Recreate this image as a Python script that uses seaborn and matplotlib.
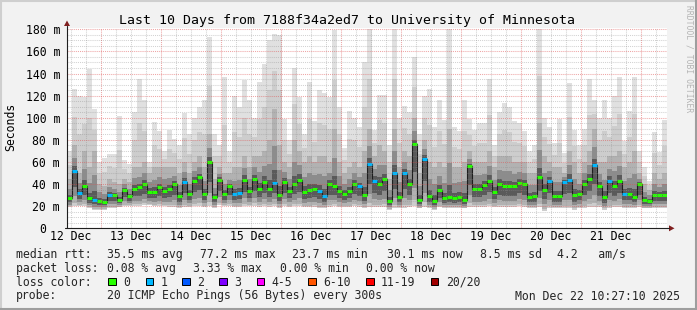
import numpy as np
import matplotlib
matplotlib.use("Agg")
import matplotlib.pyplot as plt
import seaborn as sns
from matplotlib.patches import Rectangle, Polygon
from matplotlib.lines import Line2D

# ---------------- data (2-hour bins over 10 days) ----------------
bin_hours = 2
start_offset_to_noon = 1.547          # start 10:27:10 -> first noon after 1h33m
median = [27, 52, 32, 38, 27, 26, 25, 24, 30, 30, 26, 35, 29, 36, 37, 40, 33, 33, 37, 34,
          36, 40, 29, 42, 31, 43, 46, 31, 60, 28, 44, 31, 38, 31, 32, 44, 34, 45, 36, 42,
          36, 41, 30, 42, 34, 40, 44, 33, 35, 36, 34, 29, 40, 38, 34, 31, 34, 40, 38, 30,
          58, 43, 40, 45, 25, 50, 28, 50, 40, 76, 26, 63, 29, 25, 35, 27, 28, 27, 28, 26,
          56, 36, 36, 39, 43, 33, 40, 38, 38, 38, 41, 40, 28, 29, 46, 35, 43, 29, 29, 42,
          44, 30, 31, 40, 45, 57, 38, 28, 43, 38, 43, 31, 31, 28, 40, 26, 25, 30, 30, 30]
upper = [70, 126, 120, 119, 144, 108, 60, 64, 67, 67, 102, 62, 58, 105, 135, 116, 60, 96, 88, 70,
         89, 81, 75, 104, 85, 100, 110, 116, 173, 85, 75, 137, 70, 120, 110, 134, 116, 100, 132, 149,
         170, 176, 175, 99, 80, 145, 119, 85, 132, 97, 125, 122, 119, 179, 110, 73, 106, 100, 92, 150,
         180, 89, 121, 121, 75, 180, 100, 111, 105, 155, 85, 120, 126, 92, 116, 98, 180, 92, 88, 116,
         99, 89, 95, 95, 135, 75, 105, 113, 110, 97, 95, 88, 70, 75, 180, 100, 92, 77, 99, 68,
         131, 89, 75, 90, 135, 116, 100, 116, 100, 120, 137, 79, 106, 137, 70, 55, 43, 87, 69, 98]
middle = [45, 75, 50, 70, 55, 70, 40, 38, 45, 42, 40, 45, 42, 55, 55, 60, 50, 55, 55, 55,
          55, 55, 50, 60, 50, 60, 65, 55, 85, 45, 55, 50, 50, 55, 55, 65, 55, 65, 65, 70,
          80, 108, 75, 60, 55, 80, 70, 60, 65, 60, 65, 65, 60, 90, 60, 50, 55, 60, 55, 70,
          90, 65, 75, 70, 45, 90, 55, 70, 65, 100, 50, 80, 60, 55, 60, 55, 90, 55, 55, 60,
          70, 60, 60, 60, 70, 55, 65, 65, 65, 60, 60, 60, 50, 50, 95, 65, 60, 55, 55, 50,
          70, 60, 50, 60, 70, 90, 60, 60, 65, 65, 70, 55, 60, 70, 50, 40, 35, 50, 45, 50]
lower = [19, 20, 20, 20, 18, 17, 17, 17, 18, 18, 19, 20, 20, 20, 20, 21, 21, 20, 20, 20,
         19, 19, 18, 19, 19, 20, 20, 19, 20, 18, 21, 20, 20, 19, 19, 20, 20, 20, 19, 20,
         19, 20, 18, 20, 19, 20, 20, 19, 19, 19, 18, 18, 19, 20, 19, 19, 19, 20, 19, 18,
         19, 19, 19, 19, 17, 18, 18, 18, 19, 20, 18, 19, 18, 17, 19, 18, 18, 18, 18, 18,
         19, 19, 19, 19, 20, 19, 19, 19, 19, 19, 20, 19, 18, 18, 19, 16, 18, 18, 18, 18,
         18, 17, 18, 18, 19, 19, 19, 17, 18, 19, 19, 18, 18, 18, 19, 18, 18, 18, 18, 18]
loss = [0, 1, 1, 0, 0, 1, 0, 0, 1, 0, 0, 0, 0, 0, 0, 0, 0, 0, 0, 0,
        0, 0, 0, 1, 0, 0, 0, 0, 0, 0, 0, 0, 0, 1, 1, 0, 0, 0, 0, 0,
        0, 1, 0, 0, 0, 0, 0, 0, 0, 0, 1, 1, 0, 0, 0, 0, 0, 0, 1, 0,
        1, 1, 0, 0, 0, 1, 0, 1, 0, 0, 0, 1, 0, 0, 0, 0, 0, 0, 0, 0,
        0, 0, 0, 0, 0, 0, 0, 0, 0, 0, 0, 0, 0, 0, 0, 0, 1, 0, 0, 1,
        1, 0, 0, 0, 0, 1, 0, 0, 1, 0, 0, 1, 0, 0, 0, 0, 0, 0, 0, 0]

day_labels = ["12 Dec", "13 Dec", "14 Dec", "15 Dec", "16 Dec",
              "17 Dec", "18 Dec", "19 Dec", "20 Dec", "21 Dec"]
y_ticks = [0, 20, 40, 60, 80, 100, 120, 140, 160, 180]
y_tick_labels = ["0", "20 m", "40 m", "60 m", "80 m", "100 m", "120 m", "140 m", "160 m", "180 m"]
loss_labels = ["0", "1", "2", "3", "4-5", "6-10", "11-19", "20/20"]
loss_colors = ["#26ff00", "#00b8ff", "#0059ff", "#7e00ff", "#ff00ff", "#ff5500", "#ff0000", "#a10000"]
rtt_stats = ["35.5 ms avg", "77.2 ms max", "23.7 ms min", "30.1 ms now", "8.5 ms sd", "4.2   am/s"]
loss_stats = ["0.08 % avg", "3.33 % max", "0.00 % min", "0.00 % now"]
title = "Last 10 Days from 7188f34a2ed7 to University of Minnesota"
probe_text = "20 ICMP Echo Pings (56 Bytes) every 300s"
stamp = "Mon Dec 22 10:27:10 2025"

# ---------------- figure ----------------
sns.set_theme(style="white")
plt.rcParams["font.family"] = ["DejaVu Sans Mono", "DejaVu Sans"]

W, H = 697, 310
fig = plt.figure(figsize=(W / 100, H / 100), dpi=100, facecolor="#f2f2f2")
X0, X1, YB, YT = 67, 667, 228.3, 28.3
ax = fig.add_axes([X0 / W, 1 - YB / H, (X1 - X0) / W, (YB - YT) / H])
ax.set_facecolor("white")
span = len(median) * bin_hours
ymax = 180 * (YB - YT) / 199.0


def fx(px):
    return px / W


def fy(py):
    return 1 - py / H


t = np.arange(len(median)) * bin_hours
te = np.append(t, span)


def ext(a):
    a = np.asarray(a, dtype=float)
    return np.append(a, a[-1])


med = ext(median)
hi = ext(upper)
mid = ext(middle)
lo = ext(lower)

# smoke layers (lightest outer band to darkest core around the median)
ax.fill_between(te, lo, hi, step="post", color="#e0e0e0", lw=0, zorder=1)
ax.fill_between(te, lo, (mid + hi) / 2, step="post", color="#cdcdcd", lw=0, zorder=1.05)
ax.fill_between(te, lo + (med - lo) * 0.1, mid, step="post", color="#b2b2b2", lw=0, zorder=1.1)
ax.fill_between(te, lo + (med - lo) * 0.3, (med + mid) / 2, step="post", color="#8c8c8c", lw=0, zorder=1.2)
ax.fill_between(te, lo + (med - lo) * 0.55, med + (mid - med) * 0.18, step="post", color="#5a5a5a", lw=0, zorder=1.3)

# median step line + loss-coloured dashes
sns.lineplot(x=te, y=med, drawstyle="steps-post", color="#1e1e1e", lw=0.8, ax=ax, zorder=2, estimator=None, sort=False)
for k, col in enumerate(loss_colors):
    sel = np.asarray(loss) == k
    if sel.any():
        ax.hlines(np.asarray(median)[sel], t[sel], t[sel] + bin_hours, colors=col, lw=2.2, zorder=2.2)

ax.set_xlim(0, span)
ax.set_ylim(0, ymax)

# grid
midnights = np.arange(start_offset_to_noon + 12, span, 24)
six_hours = np.arange(start_offset_to_noon % 6, span, 6)
ax.set_xticks(midnights)
ax.set_xticks(six_hours, minor=True)
ax.set_yticks(y_ticks)
ax.set_yticks(np.arange(5, 181, 5), minor=True)
ax.set_xticklabels([])
ax.set_yticklabels([])
ax.set_axisbelow(False)
ax.grid(which="major", color="#de4f4f", alpha=0.5, linestyle=(0, (1, 1)), lw=0.75)
ax.grid(which="minor", color="#8f8f8f", alpha=0.4, linestyle=(0, (1, 1)), lw=0.75)
ax.tick_params(axis="x", which="major", direction="out", length=2.2, width=0.75, color="#e08a8a")
ax.tick_params(axis="x", which="minor", direction="out", length=1.5, width=0.75, color="#b0b0b0")
ax.tick_params(axis="y", which="major", direction="out", length=2.2, width=0.75, color="#404040")
ax.tick_params(axis="y", which="minor", direction="out", length=1.5, width=0.75, color="#a0a0a0")
for s in ax.spines.values():
    s.set_visible(False)

# axes lines with arrows
fig.add_artist(Line2D([fx(X0), fx(X0)], [fy(YB), fy(25.5)], color="#1f1f1f", lw=0.8, transform=fig.transFigure))
fig.add_artist(Line2D([fx(X0 - 2), fx(669)], [fy(YB), fy(YB)], color="#1f1f1f", lw=0.8, transform=fig.transFigure))
fig.add_artist(Polygon([[fx(X0 - 3), fy(26)], [fx(X0 + 3), fy(26)], [fx(X0), fy(20.5)]],
                       closed=True, color="#801f1f", transform=fig.transFigure, lw=0))
fig.add_artist(Polygon([[fx(669), fy(YB - 3)], [fx(669), fy(YB + 3)], [fx(674.5), fy(YB)]],
                       closed=True, color="#801f1f", transform=fig.transFigure, lw=0))

FS = 8.3
# tick labels
for v, lab in zip(y_ticks, y_tick_labels):
    off = 7 if lab.endswith("m") else 21
    ax.text(-off / (X1 - X0), v, lab, transform=ax.get_yaxis_transform(), ha="right",
            va="center_baseline", fontsize=FS, color="black")
for i, lab in enumerate(day_labels):
    ax.text(start_offset_to_noon + 24 * i, -(240.3 - YB) / (YB - YT), lab, transform=ax.get_xaxis_transform(),
            ha="center", va="baseline", fontsize=FS, color="black")

# title, axis label, watermark
fig.text(fx(347), fy(24), title, ha="center", va="baseline", fontsize=9.5, color="black")
fig.text(fx(10.5), fy(127), "Seconds", rotation=90, ha="center", va="center", fontsize=FS, color="black")
fig.text(fx(688.5), fy(5), "RRDTOOL / TOBI OETIKER", rotation=-90, ha="center", va="top",
         fontsize=5.8, color="#b4b4b4")

# legend lines
fig.text(fx(16), fy(257.7), "median rtt:", ha="left", va="baseline", fontsize=FS)
for xp, s in zip([107.3, 200, 292.5, 386.5, 480, 557], rtt_stats):
    fig.text(fx(xp), fy(257.7), s, ha="left", va="baseline", fontsize=FS)
fig.text(fx(16), fy(272), "packet loss:", ha="left", va="baseline", fontsize=FS)
for xp, s in zip([107.3, 193.5, 279.8, 365.5], loss_stats):
    fig.text(fx(xp), fy(272), s, ha="left", va="baseline", fontsize=FS)
fig.text(fx(16), fy(285.7), "loss color:", ha="left", va="baseline", fontsize=FS)
for xp, lab, col in zip([108.3, 145.7, 182.3, 219.3, 256.7, 308.3, 366, 430.7], loss_labels, loss_colors):
    fig.add_artist(Rectangle((fx(xp), fy(285.3)), 7.7 / W, 7.7 / H, facecolor=col, edgecolor="black",
                             lw=0.7, transform=fig.transFigure))
    fig.text(fx(xp + 15), fy(285.7), lab, ha="left", va="baseline", fontsize=FS)
fig.text(fx(16), fy(299.5), "probe:", ha="left", va="baseline", fontsize=FS)
fig.text(fx(107.3), fy(299.5), probe_text, ha="left", va="baseline", fontsize=FS)
fig.text(fx(680), fy(299.5), stamp, ha="right", va="baseline", fontsize=FS)

# 3D frame
fig.add_artist(Line2D([0, 1], [fy(0.5), fy(0.5)], color="#cfcfcf", lw=1.5, transform=fig.transFigure))
fig.add_artist(Line2D([fx(0.5), fx(0.5)], [0, 1], color="#cfcfcf", lw=1.5, transform=fig.transFigure))
fig.add_artist(Line2D([0, 1], [fy(309), fy(309)], color="#9e9e9e", lw=1.5, transform=fig.transFigure))
fig.add_artist(Line2D([fx(696), fx(696)], [0, 1], color="#9e9e9e", lw=1.5, transform=fig.transFigure))

fig.savefig("out.png", dpi=100, facecolor=fig.get_facecolor())
